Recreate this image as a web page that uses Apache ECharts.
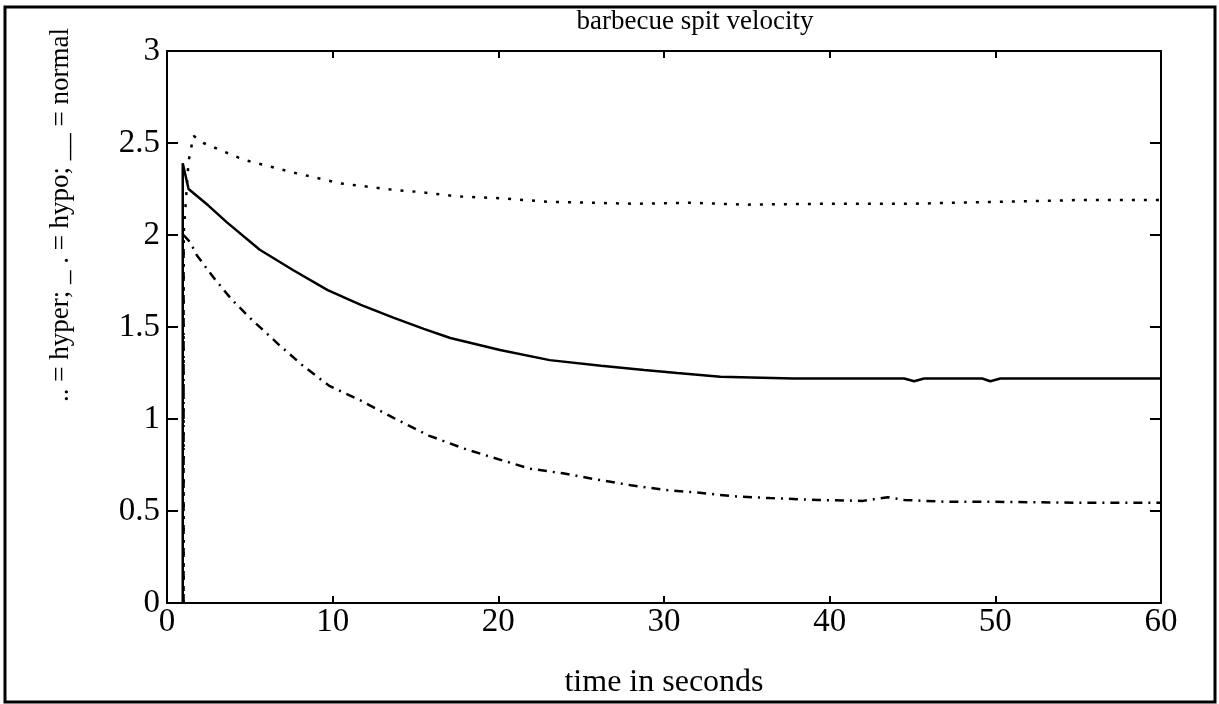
<!DOCTYPE html>
<html>
<head>
<meta charset="utf-8">
<title>barbecue spit velocity</title>
<script src="https://cdn.jsdelivr.net/npm/echarts@6/dist/echarts.min.js"></script>
<style>
  html, body { margin: 0; padding: 0; background: #fff; }
  #chart { width: 1219px; height: 704px; }
</style>
</head>
<body>
<div id="chart"></div>
<script>
// values
const xTicks = [0, 10, 20, 30, 40, 50, 60]
const yTicks = [0, 0.5, 1, 1.5, 2, 2.5, 3]

// __ normal
const normalT = [0.95, 0.95, 1.3, 2.5, 3.6, 5.6, 7.6, 9.7, 11.7, 13.7, 15.5, 17.1, 20.1, 23.1, 26.2, 28.8, 30.8, 33.4, 37.8, 41, 44.5, 45.1, 45.7, 49.2, 49.7, 50.3, 55, 60]
const normalV = [0, 2.39, 2.25, 2.16, 2.07, 1.92, 1.81, 1.70, 1.62, 1.55, 1.49, 1.44, 1.375, 1.32, 1.29, 1.266, 1.25, 1.23, 1.22, 1.22, 1.22, 1.205, 1.22, 1.22, 1.205, 1.22, 1.22, 1.22]

// .. hyper
const hyperT = [1.0, 1.0, 1.3, 1.6, 2.2, 4.6, 7.6, 10.5, 13.7, 15.1, 17.5, 20.1, 23.1, 28.2, 31.6, 35, 40, 45, 50, 55, 60]
const hyperV = [0, 2.0, 2.4, 2.54, 2.50, 2.41, 2.34, 2.28, 2.245, 2.235, 2.21, 2.20, 2.18, 2.17, 2.175, 2.165, 2.17, 2.17, 2.18, 2.19, 2.19]

// _ . hypo
const hypoT = [1.0, 1.0, 1.4, 1.8, 2.8, 3.9, 5.0, 6.8, 8.2, 9.8, 11.7, 13.7, 15.8, 17.9, 19.7, 21.9, 23.9, 26, 28, 30, 32, 34.2, 36.4, 39.3, 42, 43.5, 44.5, 47, 50, 55, 60]
const hypoV = [0, 2.0, 1.96, 1.89, 1.77, 1.65, 1.55, 1.40, 1.29, 1.18, 1.10, 1.005, 0.91, 0.84, 0.79, 0.73, 0.705, 0.67, 0.64, 0.615, 0.60, 0.58, 0.57, 0.56, 0.555, 0.575, 0.56, 0.55, 0.55, 0.545, 0.545]

const pairs = (ts, vs) => ts.map((t, i) => [t, vs[i]])

const font = 'Liberation Serif'
const axisLine = { onZero: false, lineStyle: { color: '#000', width: 2 } }

const xBase = {
  type: 'value',
  min: xTicks[0],
  max: xTicks[xTicks.length - 1],
  interval: 10,
  axisLine,
  splitLine: { show: false },
}
const yBase = {
  type: 'value',
  min: yTicks[0],
  max: yTicks[yTicks.length - 1],
  interval: 0.5,
  axisLine,
  splitLine: { show: false },
}

const line = (name, data, type) => ({
  name,
  type: 'line',
  data,
  showSymbol: false,
  silent: true,
  lineStyle: { color: '#000', width: 2.5, type },
})

const chart = echarts.init(document.getElementById('chart'))
chart.setOption({
  animation: false,
  backgroundColor: '#fff',
  title: {
    text: 'barbecue spit velocity',
    left: 690,
    top: 3,
    textAlign: 'center',
    textStyle: { fontFamily: font, fontSize: 27, fontWeight: 'normal', color: '#000' },
  },
  grid: { left: 167, right: 58, top: 51, bottom: 101 },
  xAxis: [
    {
      ...xBase,
      position: 'bottom',
      name: 'time in seconds',
      nameLocation: 'middle',
      nameGap: 64,
      nameTextStyle: { fontFamily: font, fontSize: 32, color: '#000' },
      axisTick: { inside: true, length: 7, lineStyle: { color: '#000', width: 2 } },
      axisLabel: { fontFamily: font, fontSize: 33, color: '#000', margin: 3 },
    },
    {
      ...xBase,
      position: 'top',
      axisTick: { inside: true, length: 7, lineStyle: { color: '#000', width: 2 } },
      axisLabel: { show: false },
    },
  ],
  yAxis: [
    {
      ...yBase,
      position: 'left',
      name: '.. = hyper; _ . = hypo; __ = normal',
      nameLocation: 'middle',
      nameGap: 93,
      nameRotate: 90,
      nameTextStyle: { fontFamily: font, fontSize: 27, color: '#000', padding: [0, 0, 0, 224] },
      axisTick: { inside: true, length: 11, lineStyle: { color: '#000', width: 2 } },
      axisLabel: { fontFamily: font, fontSize: 33, color: '#000', margin: 7 },
    },
    {
      ...yBase,
      position: 'right',
      axisTick: { inside: true, length: 11, lineStyle: { color: '#000', width: 2 } },
      axisLabel: { show: false },
    },
  ],
  series: [
    line('hyper', pairs(hyperT, hyperV), [3, 9]),
    line('hypo', pairs(hypoT, hypoV), [9, 6, 2, 6]),
    line('normal', pairs(normalT, normalV), 'solid'),
  ],
  graphic: [{
    type: 'rect',
    silent: true,
    shape: { x: 5, y: 7, width: 1210, height: 695 },
    style: { fill: null, stroke: '#000', lineWidth: 3 },
  }],
})
</script>
</body>
</html>
